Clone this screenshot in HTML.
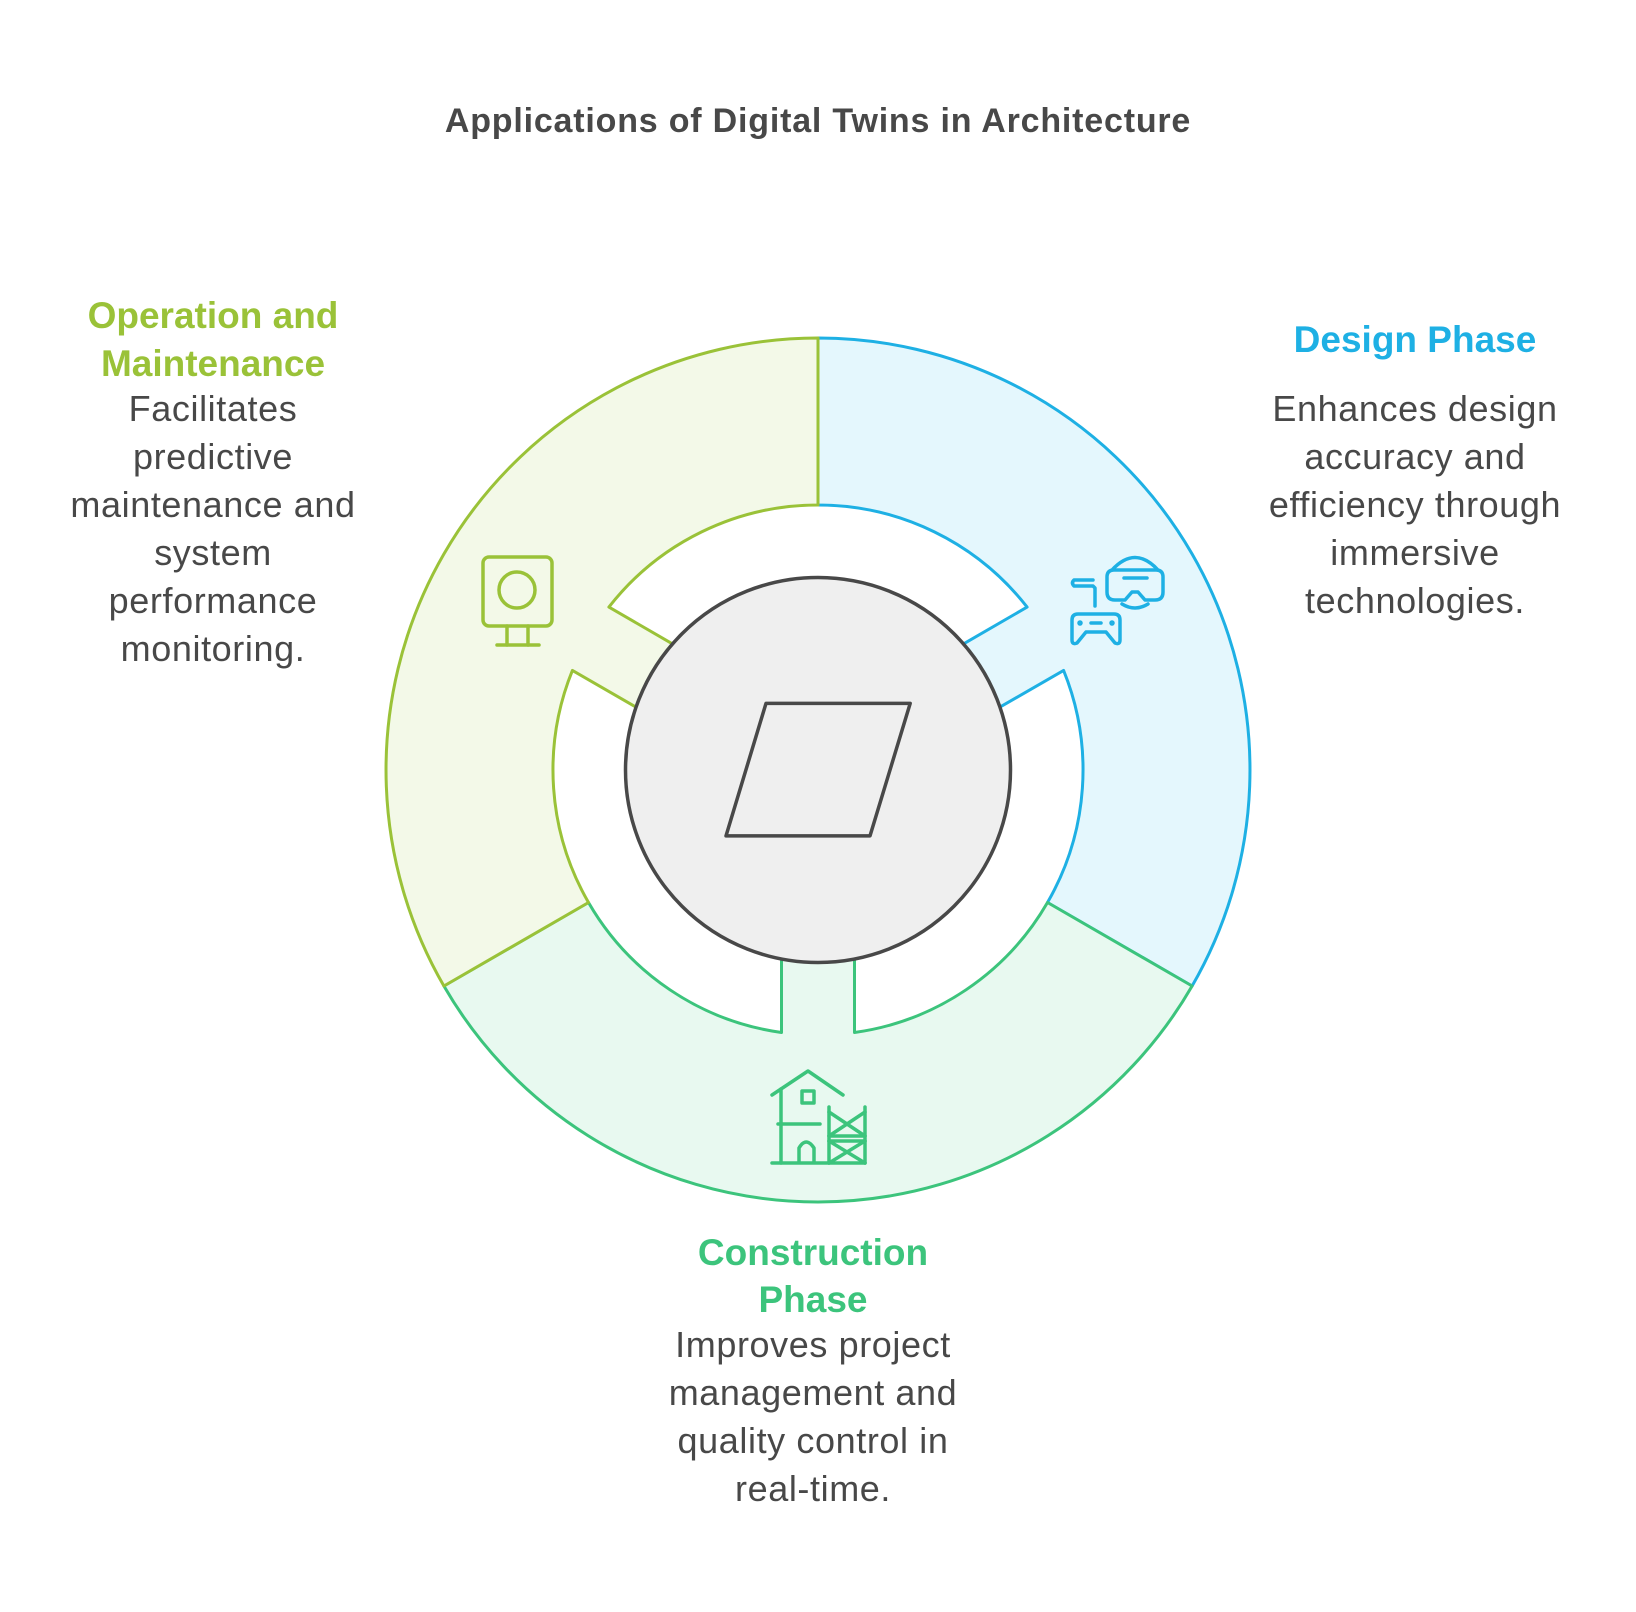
<!DOCTYPE html>
<html><head><meta charset="utf-8"><style>
html,body{margin:0;padding:0;background:#fff;}
svg{display:block;}
text{font-family:"Liberation Sans",sans-serif;}
.t{font-weight:bold;font-size:37px;text-anchor:middle;}
.b{font-size:36px;letter-spacing:0.6px;fill:#484848;text-anchor:middle;}
</style></head><body>
<svg width="1636" height="1612" viewBox="0 0 1636 1612" xmlns="http://www.w3.org/2000/svg">
<rect width="1636" height="1612" fill="#fff"/>
<text x="818" y="132" font-size="34" font-weight="bold" letter-spacing="0.8" fill="#484848" text-anchor="middle">Applications of Digital Twins in Architecture</text>

<path d="M818,338 A432,432 0 0 1 1192.1,986 L1047.5,902.5 A265,265 0 0 0 1063.6,670.4 L996.5,709.1 L960,645.9 L1027.1,607.1 A265,265 0 0 0 818,505 Z" fill="#e4f7fd" stroke="#1eb0e4" stroke-width="3" stroke-linejoin="round"/>
<path d="M1192.1,986 A432,432 0 0 1 443.9,986 L588.5,902.5 A265,265 0 0 0 781.5,1032.5 L781.5,955 L854.5,955 L854.5,1032.5 A265,265 0 0 0 1047.5,902.5 Z" fill="#e8f9f0" stroke="#3cc47c" stroke-width="3" stroke-linejoin="round"/>
<path d="M443.9,986 A432,432 0 0 1 818,338 L818,505 A265,265 0 0 0 608.9,607.1 L676,645.9 L639.5,709.1 L572.4,670.4 A265,265 0 0 0 588.5,902.5 Z" fill="#f3f9e8" stroke="#9ac238" stroke-width="3" stroke-linejoin="round"/>

<circle cx="818" cy="770" r="192.5" fill="#efefef" stroke="#484848" stroke-width="3.5"/>
<polygon points="766,703.4 910.2,703.4 870,835.9 726,835.9" fill="none" stroke="#484848" stroke-width="3.5" stroke-linejoin="round"/>

<g fill="none" stroke="#1eb0e4" stroke-width="3.5" stroke-linecap="round" stroke-linejoin="round">
<path d="M1112,570 Q1135,545 1158,570"/>
<path d="M1107,577 Q1107,570 1114,570 L1156,570 Q1163,570 1163,577 L1163,592 Q1163,600 1155,600 L1145,600 L1138,592 L1132,592 L1125,600 L1115,600 Q1107,600 1107,592 Z"/>
<line x1="1124" y1="578" x2="1147" y2="578"/>
<path d="M1122,604 Q1135,612 1148,604"/>
<path d="M1093,580 L1074,580 Q1071,583 1074,586 L1093,586 L1095,588 L1095,606"/>
<path d="M1078,614 L1114,614 Q1120,614 1120,620 L1120,640 Q1120,645 1115,643 L1106,632 L1086,632 L1077,643 Q1072,645 1072,640 L1072,620 Q1072,614 1078,614 Z"/>
<circle cx="1080" cy="623" r="1" fill="#1eb0e4"/><circle cx="1112" cy="623" r="1" fill="#1eb0e4"/>
<line x1="1091" y1="623" x2="1101" y2="623"/>
</g>

<g fill="none" stroke="#3cc47c" stroke-width="3.5" stroke-linecap="round" stroke-linejoin="round">
<path d="M772,1095 L808,1071 L843,1095"/>
<line x1="781" y1="1089" x2="781" y2="1163"/>
<rect x="802" y="1091" width="12" height="12"/>
<line x1="778" y1="1124" x2="820" y2="1124"/>
<path d="M799,1162 L799,1148 Q806,1136 814,1148 L814,1162"/>
<line x1="772" y1="1163" x2="865" y2="1163"/>
<line x1="829" y1="1107" x2="829" y2="1163"/>
<line x1="865" y1="1107" x2="865" y2="1163"/>
<line x1="829" y1="1136" x2="865" y2="1136"/>
<line x1="829" y1="1141" x2="865" y2="1141"/>
<path d="M829,1112 L865,1136 M865,1112 L829,1136 M829,1141 L865,1163 M865,1141 L829,1163"/>
</g>

<g fill="none" stroke="#9ac238" stroke-width="3.5" stroke-linecap="round" stroke-linejoin="round">
<rect x="483" y="557" width="69" height="69" rx="6"/>
<circle cx="517" cy="590" r="18"/>
<line x1="507" y1="626" x2="507" y2="645"/>
<line x1="528" y1="626" x2="528" y2="645"/>
<line x1="497" y1="645" x2="539" y2="645"/>
</g>

<text class="t" x="1415" y="352" fill="#1eb0e4">Design Phase</text>
<text class="b" x="1415" y="421">Enhances design</text>
<text class="b" x="1415" y="469">accuracy and</text>
<text class="b" x="1415" y="517">efficiency through</text>
<text class="b" x="1415" y="565">immersive</text>
<text class="b" x="1415" y="613">technologies.</text>

<text class="t" x="213" y="328" fill="#9ac238">Operation and</text>
<text class="t" x="213" y="376" fill="#9ac238">Maintenance</text>
<text class="b" x="213" y="421">Facilitates</text>
<text class="b" x="213" y="469">predictive</text>
<text class="b" x="213" y="517">maintenance and</text>
<text class="b" x="213" y="565">system</text>
<text class="b" x="213" y="613">performance</text>
<text class="b" x="213" y="661">monitoring.</text>

<text class="t" x="813" y="1265" fill="#3cc47c">Construction</text>
<text class="t" x="813" y="1312" fill="#3cc47c">Phase</text>
<text class="b" x="813" y="1357">Improves project</text>
<text class="b" x="813" y="1405">management and</text>
<text class="b" x="813" y="1453">quality control in</text>
<text class="b" x="813" y="1501">real-time.</text>
</svg>
</body></html>
